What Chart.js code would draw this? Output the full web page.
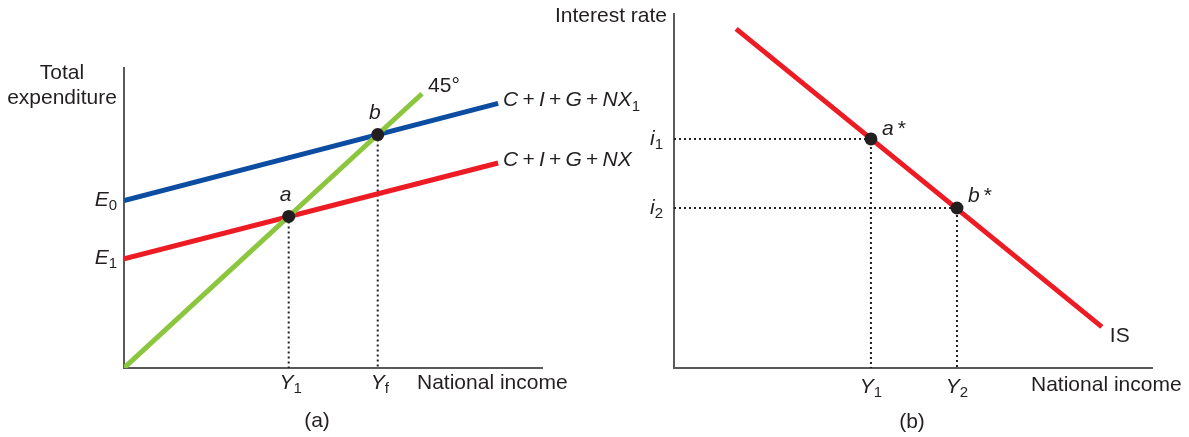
<!DOCTYPE html>
<html><head><meta charset="utf-8">
<script src="https://cdn.jsdelivr.net/npm/chart.js@4.4.1/dist/chart.umd.min.js"></script>
<style>
html,body{margin:0;padding:0;background:#fff;}
#wrap{position:relative;width:1189px;height:437px;overflow:hidden;background:#fff;}
canvas{position:absolute;top:0;background:transparent;}
</style></head><body>
<div id="wrap">
<canvas id="ca" width="660" height="437" style="left:0"></canvas>
<canvas id="cb" width="669" height="437" style="left:520px"></canvas>
</div>
<script>
// ---------- Panel (a): Keynesian cross ----------
const aLineIncome = [0, 89.5];          // x at both ends of the expenditure lines
const aSpendNX1   = [43.5, 68.8];       // C+I+G+NX1 (blue)
const aSpendNX    = [28.4, 53.3];       // C+I+G+NX (red)
const a45Income   = [0, 71.3];          // 45° line (y = x)
const aPointNames = ['a', 'b'];
const aPointIncome = [39.4, 60.7];      // equilibria on the 45° line
const aTickLabels = [[['Y','i'],['1','s']], [['Y','i'],['f','s']]];

// ---------- Panel (b): IS curve ----------
const isIncome = [13.0, 89.5];
const isRate   = [95.8, 11.6];
const bPointNames  = ['a', 'b'];
const bPointIncome = [41.2, 59.2];
const bPointRate   = [64.7, 45.2];
const bTickLabels  = [[['Y','i'],['1','s']], [['Y','i'],['2','s']]];
const bRateLabels  = [[['i','i'],['1','s']], [['i','i'],['2','s']]];

const FF = '"Liberation Sans", Arial, Helvetica, sans-serif';
const FS = 21, SS = 15;
const TXT = '#231f20', AX = '#5a5a5a';
const BLUE = '#0c4da2', RED = '#ed1c24', GREEN = '#8cc63f';
const PLUS = '\u2009+\u2009';

function drawRich(ctx, x, y, parts, align) {
  const fonts = {n: FS + 'px ' + FF, i: 'italic ' + FS + 'px ' + FF, s: SS + 'px ' + FF};
  let w = 0;
  const ws = parts.map(p => { ctx.font = fonts[p[1] || 'n']; const m = ctx.measureText(p[0]).width; w += m; return m; });
  let cx = align === 'center' ? x - w / 2 : align === 'right' ? x - w : x;
  ctx.save();
  ctx.textBaseline = 'middle'; ctx.textAlign = 'left'; ctx.fillStyle = TXT;
  parts.forEach((p, k) => { ctx.font = fonts[p[1] || 'n']; ctx.fillText(p[0], cx, y + (p[1] === 's' ? 6 : 0)); cx += ws[k]; });
  ctx.restore();
}

function pts(xs, ys) { return xs.map((x, k) => ({x: x, y: ys[k]})); }

function axisScales(ymax) {
  const common = {type: 'linear', ticks: {display: false},
    grid: {display: false, drawTicks: false, tickLength: 0},
    border: {display: true, color: AX, width: 2}};
  return {
    x: Object.assign({}, common, {min: 0, max: 100}),
    y: Object.assign({}, common, {min: 0, max: ymax})
  };
}

const dotted = {borderColor: TXT, borderWidth: 2, borderDash: [2, 3], pointRadius: 0, fill: false, showLine: true};
const thick = {borderWidth: 5, pointRadius: 0, fill: false, showLine: true, borderCapStyle: 'butt'};
const dots = {showLine: false, pointRadius: 6.5, pointBackgroundColor: TXT, pointBorderWidth: 0, borderColor: TXT};

// ---- Chart (a)
const aDatasets = [
  Object.assign({data: aPointIncome.map(v => ({x: v, y: v}))}, dots),
  Object.assign({data: pts(a45Income, a45Income), borderColor: GREEN}, thick),
  Object.assign({data: pts(aLineIncome, aSpendNX1), borderColor: BLUE}, thick),
  Object.assign({data: pts(aLineIncome, aSpendNX), borderColor: RED}, thick)
];
aPointIncome.forEach(v => aDatasets.push(Object.assign({data: [{x: v, y: v}, {x: v, y: 0}]}, dotted)));

const labelsA = {
  id: 'labelsA',
  afterDraw(chart) {
    const ctx = chart.ctx, xs = chart.scales.x, ys = chart.scales.y, A = chart.chartArea;
    drawRich(ctx, A.left - 62, A.top + 5, [['Total']], 'center');
    drawRich(ctx, A.left - 62, A.top + 30, [['expenditure']], 'center');
    drawRich(ctx, A.left - 7, ys.getPixelForValue(aSpendNX1[0]) - 1, [['E','i'],['0','s']], 'right');
    drawRich(ctx, A.left - 7, ys.getPixelForValue(aSpendNX[0]) - 1, [['E','i'],['1','s']], 'right');
    aPointIncome.forEach((v, k) => {
      drawRich(ctx, xs.getPixelForValue(v) - 3, ys.getPixelForValue(v) - 21, [[aPointNames[k],'i']], 'center');
      drawRich(ctx, xs.getPixelForValue(v) + 2, A.bottom + 15, aTickLabels[k], 'center');
    });
    drawRich(ctx, xs.getPixelForValue(a45Income[1]) + 6, ys.getPixelForValue(a45Income[1]) - 8, [['45°']], 'left');
    const ex = xs.getPixelForValue(aLineIncome[1]) + 5;
    drawRich(ctx, ex, ys.getPixelForValue(aSpendNX1[1]) - 3,
      [['C','i'],[PLUS],['I','i'],[PLUS],['G','i'],[PLUS],['NX','i'],['1','s']], 'left');
    drawRich(ctx, ex, ys.getPixelForValue(aSpendNX[1]) - 3,
      [['C','i'],[PLUS],['I','i'],[PLUS],['G','i'],[PLUS],['NX','i']], 'left');
    drawRich(ctx, 417, A.bottom + 15, [['National income']], 'left');
    drawRich(ctx, 317, 421, [['(a)']], 'center');
  }
};

new Chart(document.getElementById('ca'), {
  type: 'scatter',
  data: {datasets: aDatasets},
  options: {
    responsive: false, animation: false, events: [],
    layout: {padding: {left: 124, right: 118, top: 68, bottom: 69}},
    plugins: {legend: {display: false}, tooltip: {enabled: false}},
    scales: axisScales(78)
  },
  plugins: [labelsA]
});

// ---- Chart (b)
const bDatasets = [
  Object.assign({data: pts(bPointIncome, bPointRate)}, dots),
  Object.assign({data: pts(isIncome, isRate), borderColor: RED}, thick)
];
bPointIncome.forEach((v, k) => {
  bDatasets.push(Object.assign({data: [{x: 0, y: bPointRate[k]}, {x: v, y: bPointRate[k]}, {x: v, y: 0}]}, dotted));
});

const labelsB = {
  id: 'labelsB',
  afterDraw(chart) {
    const ctx = chart.ctx, xs = chart.scales.x, ys = chart.scales.y, A = chart.chartArea;
    drawRich(ctx, A.left - 7, A.top + 2, [['Interest rate']], 'right');
    bPointIncome.forEach((v, k) => {
      const px = xs.getPixelForValue(v), py = ys.getPixelForValue(bPointRate[k]);
      drawRich(ctx, A.left - 11, py, bRateLabels[k], 'right');
      drawRich(ctx, px + 11, py - (k === 0 ? 10 : 12), [[bPointNames[k],'i'],['\u2009*']], 'left');
      drawRich(ctx, px, A.bottom + 19, bTickLabels[k], 'center');
    });
    drawRich(ctx, xs.getPixelForValue(isIncome[1]) + 8, ys.getPixelForValue(isRate[1]) + 9, [['IS']], 'left');
    drawRich(ctx, 511, A.bottom + 17, [['National income']], 'left');
    drawRich(ctx, 392, 422, [['(b)']], 'center');
  }
};

new Chart(document.getElementById('cb'), {
  type: 'scatter',
  data: {datasets: bDatasets},
  options: {
    responsive: false, animation: false, events: [],
    layout: {padding: {left: 154, right: 37, top: 14, bottom: 69}},
    plugins: {legend: {display: false}, tooltip: {enabled: false}},
    scales: axisScales(100)
  },
  plugins: [labelsB]
});
</script>
</body></html>
